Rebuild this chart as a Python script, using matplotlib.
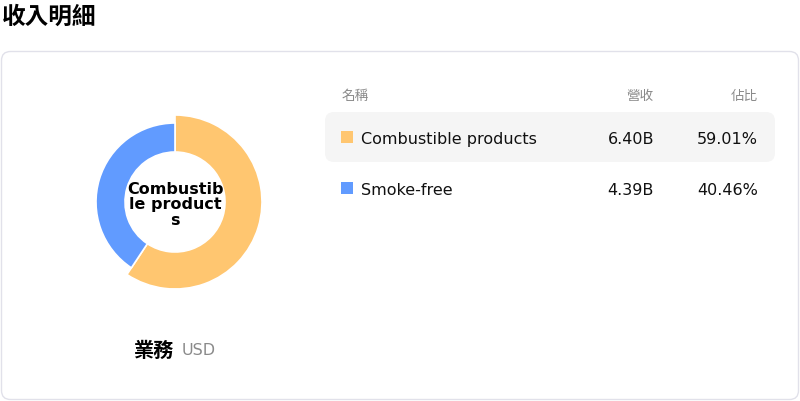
import matplotlib
matplotlib.use("Agg")
import matplotlib.pyplot as plt
from matplotlib.patches import FancyBboxPatch, Rectangle

plt.rcParams["font.family"] = ["DejaVu Sans", "Noto Sans CJK TC"]

# datos del gráfico
titulo = "收入明細"
categorias = ["Combustible products", "Smoke-free"]
ingresos = [6.40, 4.39]          # en miles de millones (B)
porcentajes = [59.01, 40.46]
encabezados = ["名稱", "營收", "佔比"]
colores = ["#ffc670", "#619bff"]
etiqueta_centro = "Combustib\nle product\ns"

W, H = 800, 402
fig = plt.figure(figsize=(W / 100, H / 100), dpi=100)

# eje "lienzo" en píxeles para tarjeta, textos y tabla
lienzo = fig.add_axes([0, 0, 1, 1])
lienzo.set_xlim(0, W)
lienzo.set_ylim(H, 0)
lienzo.axis("off")

lienzo.text(2, 17, titulo, fontsize=17, fontweight="bold", va="center", ha="left")

tarjeta = FancyBboxPatch((1.5, 52.5), 797, 348, boxstyle="round,pad=0,rounding_size=9",
                         fc="white", ec="#e1e1ea", lw=1)
lienzo.add_patch(tarjeta)

# encabezado de la tabla
col_x = [342, 654, 758]
lienzo.text(col_x[0], 96, encabezados[0], fontsize=9.8, color="#8a8a8a", va="center", ha="left")
lienzo.text(col_x[1], 96, encabezados[1], fontsize=9.8, color="#8a8a8a", va="center", ha="right")
lienzo.text(col_x[2], 96, encabezados[2], fontsize=9.8, color="#8a8a8a", va="center", ha="right")

fila_y = [138, 189]
for i, (cat, ing, pct) in enumerate(zip(categorias, ingresos, porcentajes)):
    y = fila_y[i]
    if i == 0:
        # la primera fila va resaltada
        fondo = FancyBboxPatch((325, y - 25), 450, 50, boxstyle="round,pad=0,rounding_size=9",
                               fc="#f5f5f5", ec="none")
        lienzo.add_patch(fondo)
    lienzo.add_patch(Rectangle((341, y - 6), 12, 12, fc=colores[i], ec="none"))
    lienzo.text(361, y + 1.5, cat, fontsize=11.5, va="center", ha="left", color="#111111")
    lienzo.text(col_x[1], y + 1.5, f"{ing:.2f}B", fontsize=11.5, va="center", ha="right", color="#111111")
    lienzo.text(col_x[2], y + 1.5, f"{pct:.2f}%", fontsize=11.5, va="center", ha="right", color="#111111")

# pie de la dona
lienzo.text(174, 351, "業務", fontsize=14.5, fontweight="bold", va="center", ha="right")
lienzo.text(182, 351, "USD", fontsize=11.5, color="#8a8a8a", va="center", ha="left")

# dona: centro en (175, 203) px, 1 unidad = 100 px
cx, cy, lado = 175, 203, 200
ax = fig.add_axes([(cx - lado / 2) / W, (H - cy - lado / 2) / H, lado / W, lado / H])
wedges, _ = ax.pie(ingresos, colors=colores, startangle=90, counterclock=False,
                   radius=0.87, wedgeprops={"width": 0.37, "edgecolor": "white", "linewidth": 1.2})
# el sector de Smoke-free se dibuja un poco más chico (el otro está "resaltado")
wedges[1].set_radius(0.79)
wedges[1].set_width(0.29)
ax.set_xlim(-1, 1)
ax.set_ylim(-1, 1)
ax.set_aspect("equal")
ax.axis("off")
ax.text(0, -0.02, etiqueta_centro, fontsize=11.5, fontweight="bold", ha="center", va="center",
        linespacing=1.05)

fig.savefig("out.png", dpi=100, facecolor="white")
